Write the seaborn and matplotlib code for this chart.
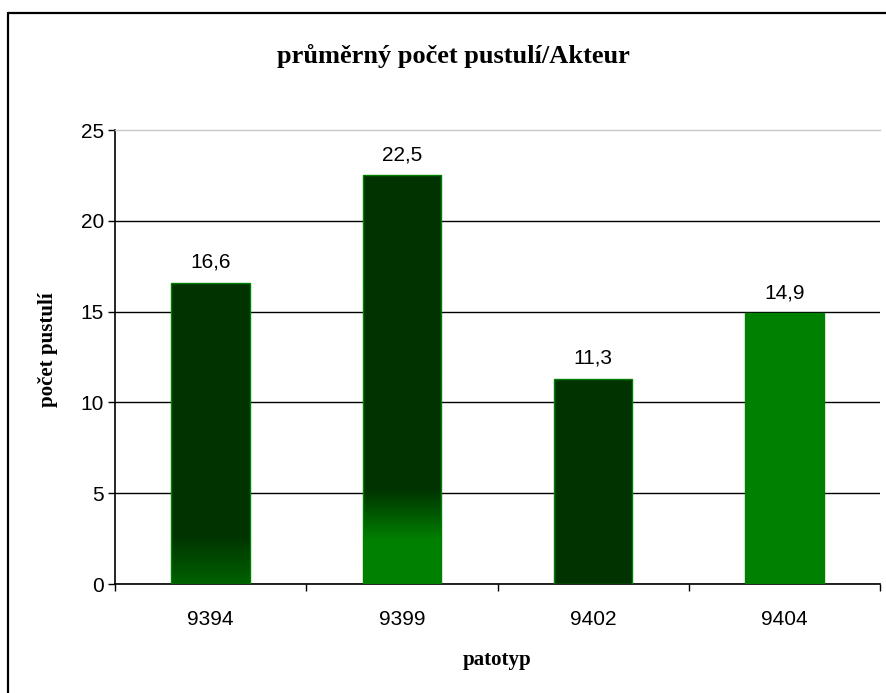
import numpy as np
import pandas as pd
import matplotlib
matplotlib.use("Agg")
import matplotlib.pyplot as plt
from matplotlib.colors import to_rgb
from matplotlib.lines import Line2D
import seaborn as sns

# Mean pustule counts per pathotype
patotypy = ["9394", "9399", "9402", "9404"]
pocet = [16.6, 22.5, 11.3, 14.9]
popisky = ["16,6", "22,5", "11,3", "14,9"]
yticks = [0, 5, 10, 15, 20, 25]

DARK = "#003300"
GREEN = "#008000"

# Fill style per bar: list of (value, colour) stops from top to bottom, or a flat colour
fills = {
    "9394": [(2.6, DARK), (0.0, "#006200")],
    "9399": [(5.2, DARK), (2.4, GREEN)],
    "9402": DARK,
    "9404": GREEN,
}

sns.set_theme(style="white")
plt.rcParams["font.family"] = ["Liberation Sans", "DejaVu Sans"]
plt.rcParams.update({"text.color": "black", "xtick.color": "black",
                     "ytick.color": "black", "axes.labelcolor": "black"})

fig = plt.figure(figsize=(8.86, 6.93), dpi=100)
ax = fig.add_axes([115 / 886, 1 - 584 / 693, (880 - 115) / 886, (584 - 130) / 693])

df = pd.DataFrame({"patotyp": patotypy, "pocet": pocet})
flat = {k: (v if isinstance(v, str) else v[0][1]) for k, v in fills.items()}
sns.barplot(data=df, x="patotyp", y="pocet", hue="patotyp", palette=flat,
            legend=False, width=0.41, edgecolor=GREEN, linewidth=1.0,
            saturation=1, ax=ax, zorder=3)

ax.set_xlim(-0.5, 3.5)
ax.set_ylim(0, 25)

# Vertical gradient fills clipped to the bars
for patch, cat in zip(ax.patches, patotypy):
    spec = fills[cat]
    if isinstance(spec, str):
        continue
    x0, y0 = patch.get_x(), patch.get_y()
    w, h = patch.get_width(), patch.get_height()
    ys = np.linspace(y0 + h, y0, 400)
    vals = [s[0] for s in spec][::-1]
    cols = np.array([to_rgb(s[1]) for s in spec])[::-1]
    img = np.stack([np.interp(ys, vals, cols[:, c]) for c in range(3)], axis=-1)
    img = np.repeat(img[:, None, :], 2, axis=1)
    im = ax.imshow(img, extent=(x0, x0 + w, y0, y0 + h), aspect="auto",
                   interpolation="bilinear", zorder=3)
    im.set_clip_path(patch)
    patch.set_facecolor("none")
    patch.set_zorder(4)

# Value labels
for i, (v, t) in enumerate(zip(pocet, popisky)):
    ax.annotate(t, (i, v), xytext=(0, 11), textcoords="offset points",
                ha="center", va="baseline", fontsize=15, color="black")

# Axes styling
ax.set_yticks(yticks)
ax.set_yticklabels([str(t) for t in yticks], fontsize=15, color="black")
ax.yaxis.grid(True, color="black", linewidth=1.0)
ax.set_axisbelow(True)
ax.get_ygridlines()[-1].set_visible(False)
ax.tick_params(axis="y", which="major", direction="out", length=5, width=1,
               color="black", pad=3, left=True)

ax.set_xticks(range(len(patotypy)))
ax.set_xticklabels(patotypy, fontsize=15, color="black")
ax.set_xticks(np.arange(-0.5, len(patotypy), 1.0), minor=True)
ax.tick_params(axis="x", which="major", length=0, pad=19)
ax.tick_params(axis="x", which="minor", direction="out", length=5, width=1,
               color="black", bottom=True)

for side in ["left", "bottom"]:
    ax.spines[side].set_color("black")
    ax.spines[side].set_linewidth(1.2)
ax.spines["right"].set_visible(False)
ax.spines["top"].set_color("#c8c8c8")
ax.spines["top"].set_linewidth(1.0)

ax.set_xlabel("")
ax.set_ylabel("")

serif_bold = dict(family=["Liberation Serif", "DejaVu Serif"], weight="bold",
                  color="black")
fig.text(453 / 886, 1 - 56 / 693, "průměrný počet pustulí/Akteur",
         ha="center", va="center", fontsize=19, **serif_bold)
fig.text(48 / 886, 1 - 350 / 693, "počet pustulí", rotation=90,
         ha="center", va="center", fontsize=15, **serif_bold)
fig.text(497 / 886, 1 - 660 / 693, "patotyp",
         ha="center", va="center", fontsize=15, **serif_bold)

# Chart-area frame (top and left edges visible)
fig.add_artist(Line2D([8 / 886, 1.0], [1 - 13 / 693, 1 - 13 / 693],
                      transform=fig.transFigure, color="black", linewidth=1.6))
fig.add_artist(Line2D([8 / 886, 8 / 886], [0.0, 1 - 13 / 693],
                      transform=fig.transFigure, color="black", linewidth=1.6))

fig.savefig("out.png", dpi=100, facecolor="white")
